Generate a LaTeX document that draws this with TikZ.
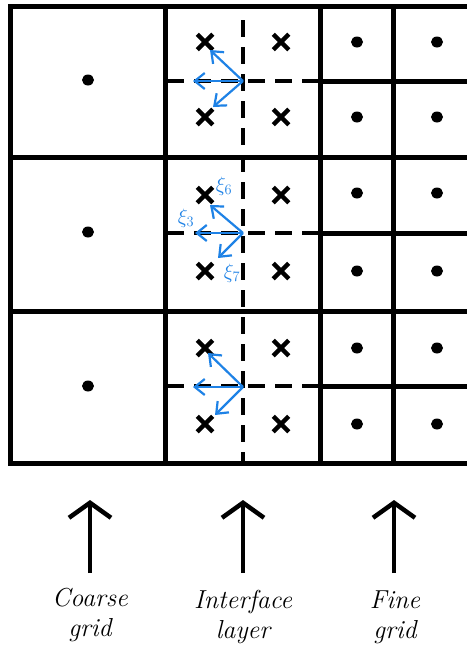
\documentclass[tikz,border=0pt]{standalone}
\usetikzlibrary{arrows.meta,shapes.misc,shapes.geometric}
\definecolor{penblue}{RGB}{30,130,230}
\begin{document}
\begin{tikzpicture}[x=1pt,y=-1pt,
  gridline/.style={line width=5pt, line cap=rect},
  dashline/.style={line width=4pt, dash pattern=on 17pt off 10pt},
  dotnode/.style={ellipse, fill, inner sep=0pt, minimum width=12pt, minimum height=11pt},
  crossnode/.style={cross out, draw, line width=4.5pt, minimum size=11pt, inner sep=0pt},
  vec/.style={penblue, line width=2.2pt, -{Straight Barb[length=10pt,width=16pt]}},
  bigarrow/.style={line width=4.5pt, -{Straight Barb[length=15pt,width=42pt]}},
  lbl/.style={align=center, font=\itshape\fontsize{26}{30}\selectfont},
  xilbl/.style={penblue, font=\fontsize{21}{21}\selectfont, inner sep=0pt}
]
\useasboundingbox[fill=white] (0,0) rectangle (466,664);

% grid lines
\draw[gridline] (466,6) -- (10,6) -- (10,463) -- (466,463);
\draw[gridline] (10,157) -- (466,157);
\draw[gridline] (10,311) -- (466,311);
\draw[gridline] (165,6) -- (165,463);
\draw[gridline] (320,6) -- (320,463);
\draw[gridline] (393,6) -- (393,463);
\foreach \yy in {81,233,386} {
  \draw[gridline] (320,\yy) -- (466,\yy);
  \draw[dashline] (167,\yy) -- (320,\yy);
}
\draw[dashline] (243,20) -- (243,463);

% coarse dots
\node[dotnode] (c1) at (88,80) {};
\node[dotnode] (c2) at (88,232) {};
\node[dotnode] (c3) at (88,386) {};

% fine dots
\foreach \yy [count=\i] in {42,117,193,271,348,424} {
  \node[dotnode] (fa\i) at (357,\yy) {};
  \node[dotnode] (fb\i) at (437,\yy) {};
}

% crosses
\foreach \yy [count=\i] in {42,117,195,271,348,424} {
  \node[crossnode] (xa\i) at (205,\yy) {};
  \node[crossnode] (xb\i) at (281,\yy) {};
}

% blue vectors
\coordinate (o1) at (243,81);
\coordinate (o2) at (243,233);
\coordinate (o3) at (243,387);
\coordinate (u1) at (210,50);  \coordinate (l1) at (193,81);  \coordinate (d1) at (213,107);
\coordinate (u2) at (210,205); \coordinate (l2) at (195,233); \coordinate (d2) at (218,258);
\coordinate (u3) at (208,353); \coordinate (l3) at (193,387); \coordinate (d3) at (215,415);
\foreach \i in {1,2,3} {
  \draw[vec] (o\i) -- (u\i);
  \draw[vec] (o\i) -- (l\i);
  \draw[vec] (o\i) -- (d\i);
}
\node[xilbl] (xi6) at (224,186) {$\xi_6$};
\node[xilbl] (xi3) at (186,218) {$\xi_3$};
\node[xilbl] (xi7) at (232,273) {$\xi_7$};

% bottom arrows and labels
\coordinate (a1) at (90,573);
\coordinate (a2) at (243,573);
\coordinate (a3) at (394,573);
\coordinate (t1) at (90,500);
\coordinate (t2) at (243,500);
\coordinate (t3) at (394,500);
\draw[bigarrow] (a1) -- (t1);
\draw[bigarrow] (a2) -- (t2);
\draw[bigarrow] (a3) -- (t3);
\node[lbl] (coarse) at (90,615) {Coarse\\grid};
\node[lbl] (inter) at (243,617) {Interface\\layer};
\node[lbl] (fine) at (395,617) {Fine\\grid};
\end{tikzpicture}
\end{document}
